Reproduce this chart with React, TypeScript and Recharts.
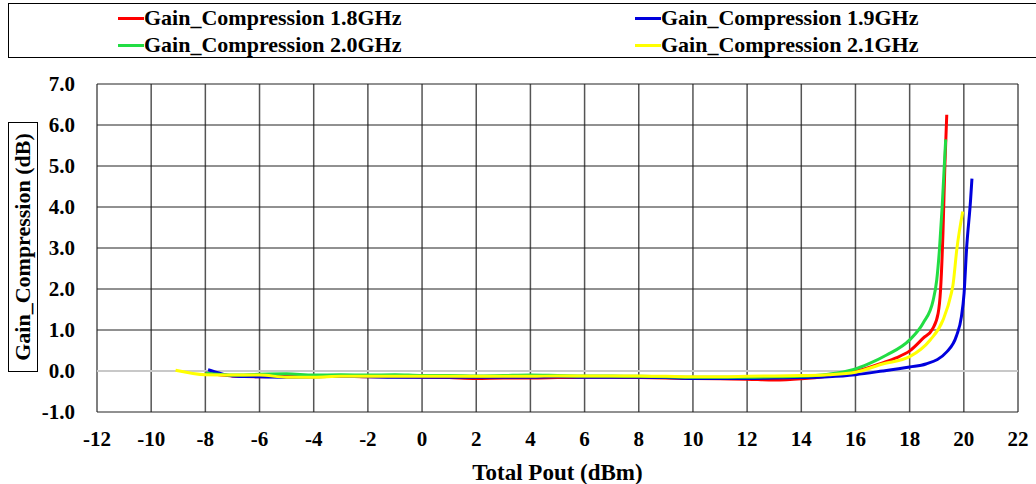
import React from 'react';
import { LineChart, Line, XAxis, YAxis, CartesianGrid, ReferenceLine } from 'recharts';

// Pout (dBm), gain compression (dB)
const gc18: [number, number][] = [
    [-8, -0.05], [-7, -0.12], [-6, -0.14], [-5, -0.13], [-4, -0.14], [-3, -0.13], [-2, -0.14], [-1, -0.14],
    [0, -0.15], [1, -0.16], [2, -0.18], [3, -0.17], [4, -0.17], [5, -0.16], [6, -0.15], [7, -0.15],
    [8, -0.16], [9, -0.17], [10, -0.18], [11, -0.19], [12, -0.2], [13, -0.22], [14, -0.19], [15, -0.12],
    [16, -0.01], [17, 0.2], [17.5, 0.32], [18, 0.49], [18.5, 0.8], [18.85, 1.03], [19.05, 1.4],
    [19.14, 1.97], [19.23, 3.37], [19.3, 5.0], [19.37, 6.25],
];
const gc19: [number, number][] = [
    [-7.9, 0.03], [-7.5, -0.05], [-7, -0.12], [-6, -0.14], [-5, -0.15], [-4, -0.14], [-3, -0.13], [-2, -0.14],
    [-1, -0.15], [0, -0.15], [1, -0.15], [2, -0.15], [3, -0.15], [4, -0.15], [5, -0.14], [6, -0.15],
    [7, -0.15], [8, -0.15], [9, -0.16], [10, -0.18], [11, -0.18], [12, -0.18], [13, -0.17], [14, -0.16],
    [15, -0.14], [16, -0.09], [17, 0.0], [18, 0.1], [18.6, 0.17], [19.36, 0.46], [19.73, 0.86],
    [19.91, 1.32], [20.01, 1.9], [20.1, 2.96], [20.25, 4.18], [20.3, 4.69],
];
const gc20: [number, number][] = [
    [-8, -0.05], [-7, -0.1], [-6, -0.08], [-5, -0.07], [-4, -0.1], [-3, -0.09], [-2, -0.1], [-1, -0.09],
    [0, -0.11], [1, -0.11], [2, -0.12], [3, -0.11], [4, -0.1], [5, -0.11], [6, -0.12], [7, -0.12],
    [8, -0.13], [9, -0.14], [10, -0.15], [11, -0.15], [12, -0.15], [13, -0.14], [14, -0.13], [15, -0.08],
    [15.9, 0.03], [16.5, 0.18], [17.15, 0.39], [18, 0.76], [18.5, 1.17], [18.87, 1.73], [19.0, 2.22],
    [19.1, 2.96], [19.2, 4.0], [19.33, 5.65],
];
const gc21: [number, number][] = [
    [-9.1, 0.02], [-8, -0.09], [-7, -0.1], [-6, -0.1], [-5, -0.15], [-4, -0.15], [-3, -0.13], [-2, -0.13],
    [-1, -0.13], [0, -0.13], [1, -0.13], [2, -0.13], [3, -0.13], [4, -0.13], [5, -0.12], [6, -0.12],
    [7, -0.12], [8, -0.12], [9, -0.13], [10, -0.14], [11, -0.14], [12, -0.13], [13, -0.12], [14, -0.11],
    [15, -0.09], [16, -0.03], [17, 0.17], [18, 0.35], [18.75, 0.75], [19.23, 1.24], [19.54, 1.9],
    [19.6, 2.1], [19.74, 2.96], [19.96, 3.89],
];

const xTicks = [-12, -10, -8, -6, -4, -2, 0, 2, 4, 6, 8, 10, 12, 14, 16, 18, 20, 22];
const yTicks = [-1, 0, 1, 2, 3, 4, 5, 6, 7];

const series = [
    { name: 'Gain_Compression 1.8GHz', color: '#ff0000', points: gc18 },
    { name: 'Gain_Compression 1.9GHz', color: '#0000dd', points: gc19 },
    { name: 'Gain_Compression 2.0GHz', color: '#22dd44', points: gc20 },
    { name: 'Gain_Compression 2.1GHz', color: '#ffff00', points: gc21 },
];

const font = "'Liberation Serif', 'Times New Roman', serif";

const toRows = (pts: [number, number][]) => pts.map(([x, y]) => ({ x, y }));

const LegendItem = ({ name, color, left, top }: { name: string; color: string; left: number; top: number }) => (
    <div style={{ position: 'absolute', left, top, display: 'flex', alignItems: 'center' }}>
        <div style={{ width: 26, height: 3, background: color }} />
        <span style={{ fontSize: 22, fontWeight: 'bold', lineHeight: '24px' }}>{name}</span>
    </div>
);

const App: React.FC = () => {
    return (
        <div style={{ position: 'absolute', left: 0, top: 0, width: 1036, height: 484, background: '#fff', fontFamily: font, overflow: 'hidden' }}>
            {/* Legend box */}
            <div style={{ position: 'absolute', left: 8, top: 3, width: 1040, height: 55, border: '1px solid #000', boxSizing: 'border-box' }}>
                <LegendItem name={series[0].name} color={series[0].color} left={109} top={2} />
                <LegendItem name={series[1].name} color={series[1].color} left={626} top={2} />
                <LegendItem name={series[2].name} color={series[2].color} left={109} top={29} />
                <LegendItem name={series[3].name} color={series[3].color} left={626} top={29} />
            </div>

            {/* Y axis title with box */}
            <div
                style={{
                    position: 'absolute',
                    left: 23 - 125,
                    top: 247 - 15,
                    width: 250,
                    height: 30,
                    border: '1px solid #000',
                    boxSizing: 'border-box',
                    transform: 'rotate(-90deg)',
                    textAlign: 'center',
                    fontSize: 22,
                    fontWeight: 'bold',
                    lineHeight: '28px',
                    whiteSpace: 'nowrap',
                }}
            >
                Gain_Compression (dB)
            </div>

            <div style={{ position: 'absolute', left: 0, top: 0 }}>
                <LineChart
                    width={1036}
                    height={484}
                    margin={{ top: 84, right: 18, left: 40, bottom: 4 }}
                    style={{ fontFamily: font }}
                >
                    <CartesianGrid horizontal={false} stroke="#555" strokeWidth={1.5} />
                    <CartesianGrid vertical={false} stroke="#222" strokeWidth={1} />
                    <XAxis
                        type="number"
                        dataKey="x"
                        domain={[-12, 22]}
                        ticks={xTicks}
                        axisLine={false}
                        tickLine={false}
                        tickSize={0}
                        tickMargin={19}
                        height={68}
                        tick={{ fill: '#000', fontSize: 21, fontWeight: 'bold' }}
                        label={{ value: 'Total Pout (dBm)', position: 'insideBottom', offset: 0, fill: '#000', fontSize: 23, fontWeight: 'bold' }}
                    />
                    <YAxis
                        type="number"
                        dataKey="y"
                        domain={[-1, 7]}
                        ticks={yTicks}
                        axisLine={false}
                        tickLine={false}
                        tickSize={0}
                        tickMargin={22}
                        width={57}
                        tickFormatter={(v: number) => v.toFixed(1)}
                        tick={{ fill: '#000', fontSize: 21, fontWeight: 'bold' }}
                    />
                    <ReferenceLine y={0} stroke="#c8c8c8" strokeWidth={2} />
                    {series.map((s) => (
                        <Line
                            key={s.name}
                            data={toRows(s.points)}
                            dataKey="y"
                            type="monotone"
                            stroke={s.color}
                            strokeWidth={3}
                            dot={false}
                            isAnimationActive={false}
                            name={s.name}
                        />
                    ))}
                </LineChart>
            </div>
        </div>
    );
};

export default App;
